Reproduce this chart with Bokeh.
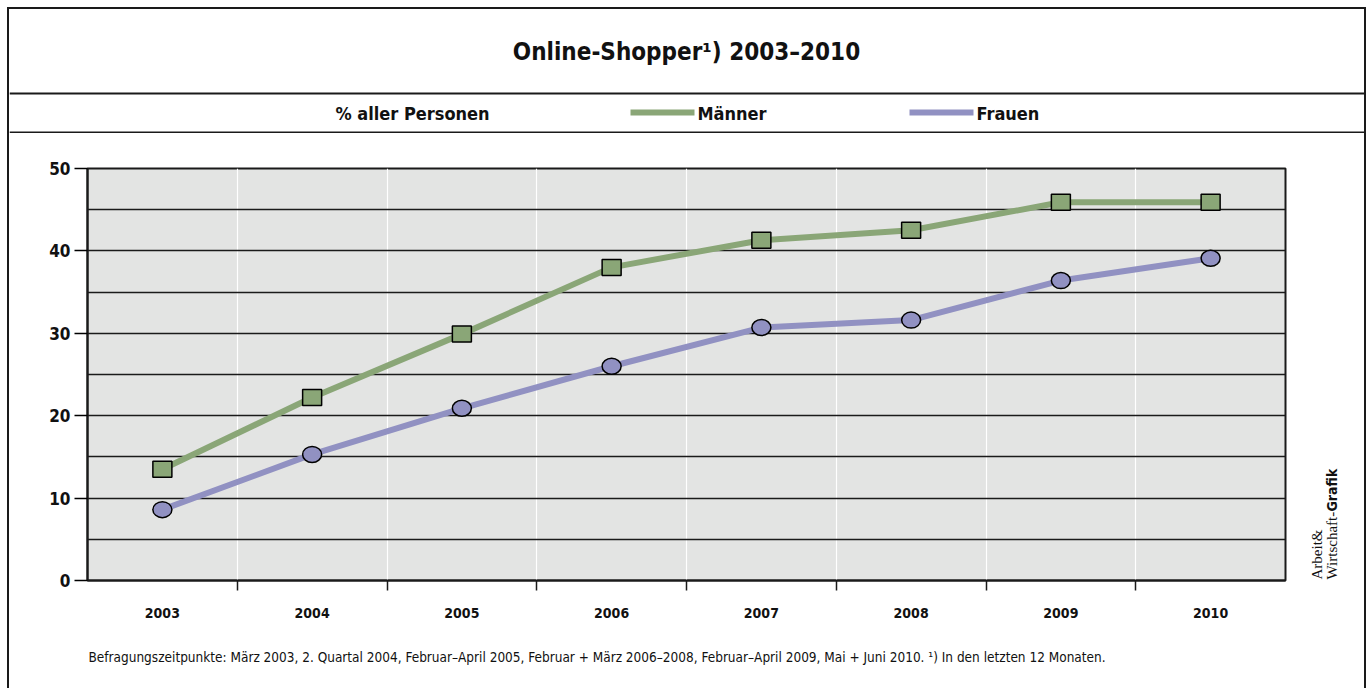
import math
from bokeh.plotting import figure
from bokeh.layouts import column, row
from bokeh.models import FixedTicker, Label, BoxAnnotation, Range1d, Span
from bokeh.embed import file_html
from bokeh.resources import INLINE

# ---- data ----
years = ["2003", "2004", "2005", "2006", "2007", "2008", "2009", "2010"]
maenner = [13.5, 22.2, 29.9, 38.0, 41.3, 42.5, 45.9, 45.9]
frauen = [8.6, 15.3, 20.9, 26.0, 30.7, 31.6, 36.4, 39.1]
y_ticks = [0, 10, 20, 30, 40, 50]
y_grid = [5, 10, 15, 20, 25, 30, 35, 40, 45]

title_text = "Online-Shopper\u00b9) 2003\u20132010"
unit_text = "% aller Personen"
series_names = ["Männer", "Frauen"]
footnote = ("Befragungszeitpunkte: März 2003, 2. Quartal 2004, Februar\u2013April 2005, "
            "Februar + März 2006\u20132008, Februar\u2013April 2009, Mai + Juni 2010. "
            "\u00b9) In den letzten 12 Monaten.")
credit = ["Arbeit&", "Wirtschaft-", "Grafik"]

GREEN = "#8aa677"
PURPLE = "#9191c2"
BG = "#e3e4e3"
FRAME = "#1a1a1a"
TXT = "#111111"
FONT = "DejaVu Sans Condensed, sans-serif"
SERIF = "Liberation Serif, serif"

WC = 1355           # inner width of the bordered box
HEAD_H = 124
MAIN_W, MAIN_H = 1291, 499
CREDIT_W = WC - MAIN_W
FOOT_H = 56


def blank(w, h, xr=None, yr=None):
    f = figure(width=w, height=h, output_backend="svg", toolbar_location=None,
               x_range=xr or Range1d(0, w), y_range=yr or Range1d(h, 0), title=None,
               x_axis_location=None, y_axis_location=None, min_border=0)
    f.grid.visible = False
    f.outline_line_color = None
    f.background_fill_color = "white"
    f.border_fill_color = "white"
    return f


def label(f, x, y, text, **kw):
    kw.setdefault("text_font", FONT)
    kw.setdefault("text_baseline", "middle")
    kw.setdefault("text_color", TXT)
    f.add_layout(Label(x=x, y=y, text=text, **kw))


# ---- header (title + legend row) ----
head = blank(WC, HEAD_H)
label(head, 677, 42, title_text, text_align="center", text_font_size="24px", text_font_style="bold")
head.add_layout(Span(location=84, dimension="width", line_color=FRAME, line_width=2))
head.add_layout(Span(location=123, dimension="width", line_color=FRAME, line_width=2))
label(head, 403, 104, unit_text, text_align="center", text_font_size="18px", text_font_style="bold")
head.add_layout(BoxAnnotation(left=621, right=685, top=100, bottom=106,
                              fill_color=GREEN, fill_alpha=1, line_color=None))
label(head, 688, 104, series_names[0], text_align="left", text_font_size="18px", text_font_style="bold")
head.add_layout(BoxAnnotation(left=900, right=964, top=100, bottom=106,
                              fill_color=PURPLE, fill_alpha=1, line_color=None))
label(head, 967, 104, series_names[1], text_align="left", text_font_size="18px", text_font_style="bold")

# ---- main chart ----
p = figure(width=MAIN_W, height=MAIN_H, output_backend="svg", toolbar_location=None,
           x_range=Range1d(-0.5, len(years) - 0.5), y_range=Range1d(0, 50), title=None,
           min_border_left=78, min_border_right=15, min_border_top=35, min_border_bottom=52)
p.background_fill_color = BG
p.border_fill_color = "white"
p.outline_line_color = FRAME
p.outline_line_width = 2

xs = list(range(len(years)))

p.yaxis.ticker = FixedTicker(ticks=y_ticks)
p.yaxis.major_label_text_font = FONT
p.yaxis.major_label_text_font_style = "bold"
p.yaxis.major_label_text_font_size = "17px"
p.yaxis.major_label_text_color = TXT
p.yaxis.major_tick_out = 13
p.yaxis.major_tick_in = 0
p.yaxis.major_tick_line_width = 1.5
p.yaxis.minor_tick_line_color = None
p.yaxis.axis_line_width = 2
p.yaxis.axis_line_color = FRAME
p.yaxis.major_label_standoff = 4

p.xaxis.ticker = FixedTicker(ticks=xs, minor_ticks=[i + 0.5 for i in xs[:-1]])
p.xaxis.major_label_overrides = {i: y for i, y in zip(xs, years)}
p.xaxis.major_label_text_font = FONT
p.xaxis.major_label_text_font_style = "bold"
p.xaxis.major_label_text_font_size = "14px"
p.xaxis.major_label_text_color = TXT
p.xaxis.major_tick_out = 0
p.xaxis.major_tick_in = 0
p.xaxis.minor_tick_out = 10
p.xaxis.minor_tick_in = 0
p.xaxis.minor_tick_line_color = FRAME
p.xaxis.minor_tick_line_width = 1.5
p.xaxis.axis_line_width = 2
p.xaxis.axis_line_color = FRAME
p.xaxis.major_label_standoff = 17

p.xgrid.ticker = FixedTicker(ticks=[i + 0.5 for i in xs[:-1]])
p.xgrid.grid_line_color = "white"
p.xgrid.grid_line_width = 1.2
p.ygrid.ticker = FixedTicker(ticks=y_grid)
p.ygrid.grid_line_color = FRAME
p.ygrid.grid_line_width = 1.5

p.line(xs, maenner, line_width=6, line_color=GREEN, line_join="round")
p.line(xs, frauen, line_width=6, line_color=PURPLE, line_join="round")
p.rect(xs, maenner, width=19, height=16, width_units="screen", height_units="screen",
       fill_color=GREEN, line_color="black", line_width=1.5)
p.ellipse(xs, frauen, width=19, height=16, width_units="screen", height_units="screen",
          fill_color=PURPLE, line_color="black", line_width=1.5)

# ---- credit (vertical, right of the chart); its frame is aligned with the chart frame ----
cred = blank(CREDIT_W, MAIN_H, xr=Range1d(0, CREDIT_W), yr=Range1d(412, 0))
label(cred, 16, 411, credit[0], text_align="left", angle=math.pi / 2, text_font=SERIF, text_font_size="15px")
label(cred, 31, 411, credit[1], text_align="left", angle=math.pi / 2, text_font=SERIF, text_font_size="15px")
label(cred, 31, 343, credit[2], text_align="left", angle=math.pi / 2, text_font_size="14px", text_font_style="bold")

# ---- footnote ----
foot = blank(WC, FOOT_H)
label(foot, 79, 24, footnote, text_align="left", text_font_size="13.5px")

layout = column(head, row(p, cred, spacing=0), foot, spacing=0,
                styles={"border-top": "2px solid #1a1a1a", "border-left": "2px solid #1a1a1a",
                        "border-right": "2px solid #1a1a1a", "margin-left": "7px", "margin-top": "7px"})

open("out.html", "w").write(file_html(layout, INLINE))
